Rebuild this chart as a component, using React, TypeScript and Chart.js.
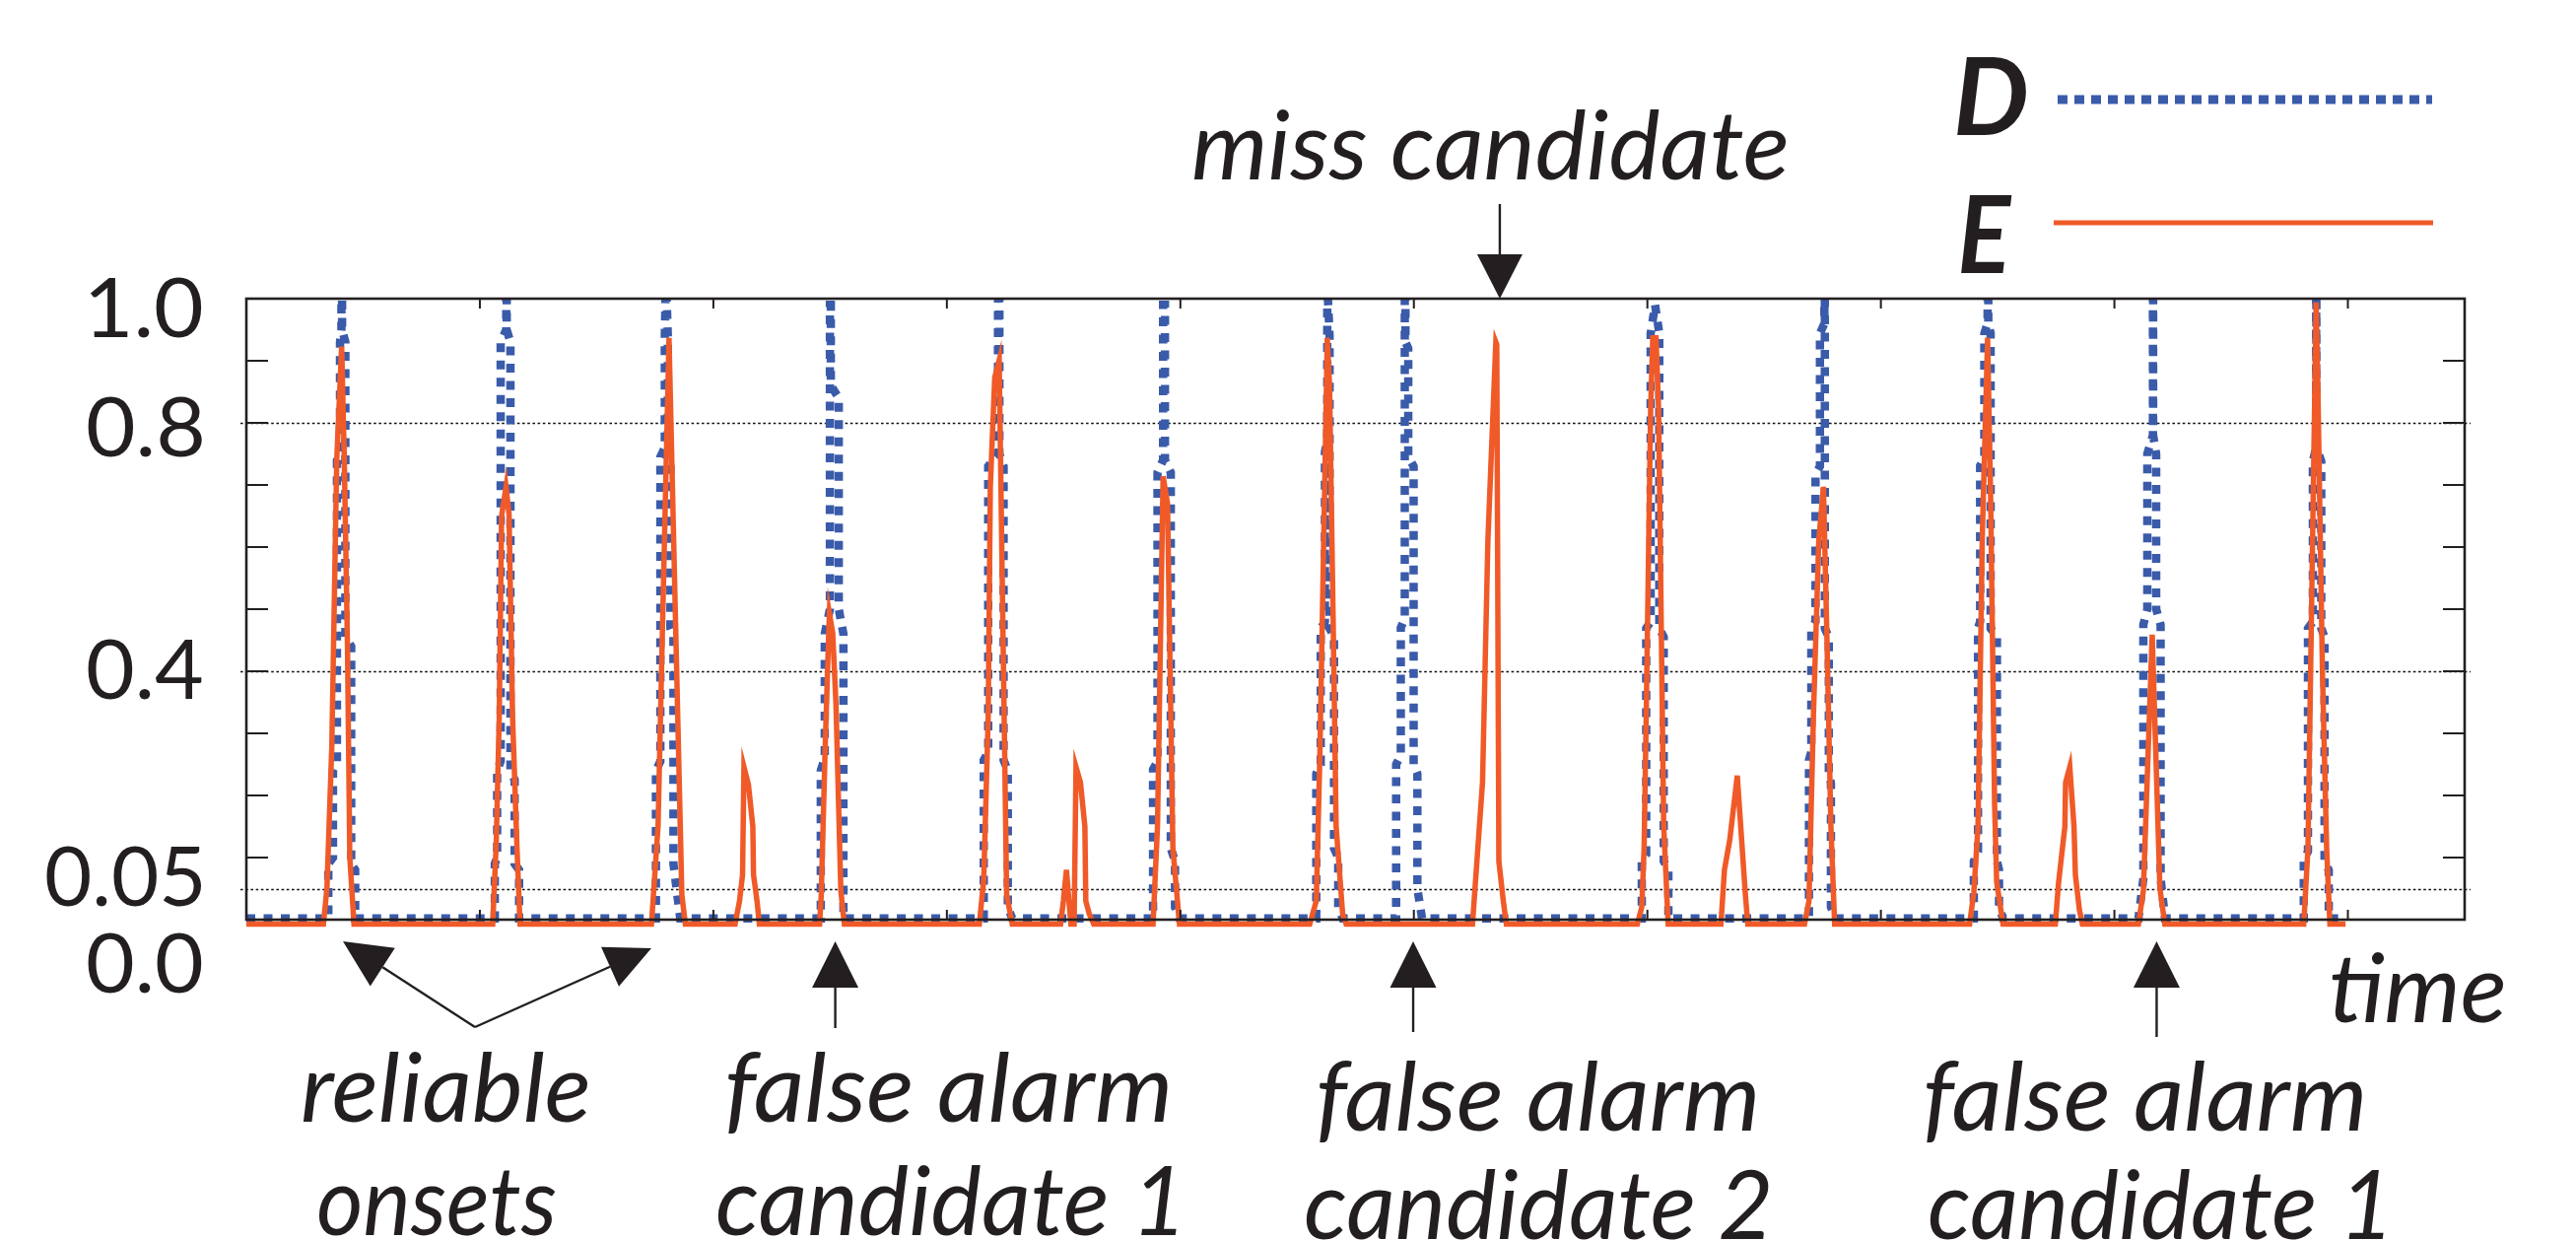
import React, { useEffect, useRef } from "react";
import { Chart, registerables } from "chart.js";

Chart.register(...registerables);

// ---------- data (time in frames, value 0..1) ----------
const timeD = [
  0,
  35.1, 35.1, 37.1, 37.1, 38.8, 38.8, 40.1, 40.1, 40.7, 40.7, 41.0, 41.0, 42.4, 42.4, 44.9, 44.9, 46.6, 46.6,
  106.4, 106.4, 107.4, 107.4, 108.9, 108.9, 111.3, 111.3, 111.5, 111.5, 113.1, 113.1, 114.9, 114.9, 116.8, 116.8,
  175.4, 175.4, 177.3, 177.3, 179.2, 179.2, 179.5, 180.0, 180.5, 180.5, 181.6, 181.6, 182.9, 182.9, 185.8,
  246.0, 246.0, 247.7, 247.7, 249.9, 249.9, 250.3, 250.3, 253.7, 253.7, 255.7, 255.7,
  315.8, 315.8, 317.7, 317.7, 321.9, 321.9, 322.5, 322.5, 324.3, 324.3, 326.1, 326.1, 328.0,
  388.3, 388.3, 390.2, 390.2, 392.6, 392.6, 393.4, 393.4, 395.9, 395.9, 397.7, 397.7, 399.6,
  458.2, 458.2, 460.1, 460.1, 461.9, 461.9, 462.9, 462.9, 463.2, 463.9, 463.9, 465.8, 465.8, 467.6, 467.6, 469.5,
  492.4, 492.4, 494.4, 494.4, 496.1, 496.1, 496.4, 496.4, 497.6, 497.6, 499.9, 499.9, 501.5, 501.5, 503.5,
  597.6, 597.6, 599.5, 599.5, 601.4, 601.4, 603.3, 605.1, 605.1, 607.0, 607.0, 609.0, 609.0,
  669.2, 669.2, 670.2, 670.2, 672.0, 672.0, 673.9, 673.9, 675.8, 675.8, 676.0, 676.0, 677.7, 677.7, 678.6, 678.6, 680.9,
  739.8, 739.8, 741.6, 741.6, 742.5, 742.5, 744.3, 744.3, 745.7, 745.7, 746.0, 746.0, 747.0, 747.0, 749.7, 749.7, 750.6, 750.6, 752.3,
  810.3, 812.4, 812.4, 814.1, 814.1, 816.5, 816.5, 816.6, 816.6, 817.9, 817.9, 819.8, 819.8, 821.7,
  881.1, 881.1, 882.9, 882.9, 885.0, 885.0, 886.4, 886.4, 886.5, 886.5, 888.6, 888.6, 890.0, 890.0, 891.8, 891.8,
  899,
];
const valueD = [
  0.002,
  0.002, 0.09, 0.10, 0.24, 0.255, 0.74, 0.755, 0.93, 0.95, 1.0, 1.0, 0.95, 0.93, 0.455, 0.44, 0.09, 0.08, 0.002,
  0.002, 0.09, 0.10, 0.24, 0.255, 0.93, 0.95, 1.0, 1.0, 0.95, 0.93, 0.24, 0.225, 0.09, 0.08, 0.002,
  0.002, 0.24, 0.255, 0.745, 0.76, 0.94, 1.0, 1.0, 0.94, 0.76, 0.745, 0.469, 0.455, 0.09, 0.002,
  0.002, 0.24, 0.26, 0.46, 0.5, 0.99, 0.99, 0.86, 0.84, 0.5, 0.46, 0.002,
  0.002, 0.257, 0.27, 0.73, 0.75, 1.0, 1.0, 0.75, 0.73, 0.257, 0.24, 0.02, 0.002,
  0.002, 0.242, 0.255, 0.72, 0.74, 0.99, 0.99, 0.74, 0.72, 0.115, 0.094, 0.02, 0.002,
  0.002, 0.235, 0.25, 0.469, 0.48, 0.753, 0.77, 1.0, 1.0, 0.94, 0.469, 0.455, 0.115, 0.1, 0.02, 0.002,
  0.002, 0.25, 0.265, 0.47, 0.485, 1.0, 1.0, 0.93, 0.92, 0.745, 0.73, 0.25, 0.235, 0.05, 0.002,
  0.002, 0.094, 0.105, 0.469, 0.48, 0.944, 0.99, 0.944, 0.469, 0.455, 0.094, 0.08, 0.002,
  0.002, 0.257, 0.27, 0.469, 0.48, 0.717, 0.73, 0.944, 0.96, 1.0, 1.0, 0.469, 0.455, 0.235, 0.22, 0.02, 0.002,
  0.002, 0.094, 0.11, 0.469, 0.48, 0.731, 0.745, 0.944, 0.96, 1.0, 1.0, 0.96, 0.944, 0.469, 0.455, 0.094, 0.08, 0.02, 0.002,
  0.002, 0.066, 0.475, 0.5, 0.75, 0.78, 1.0, 1.0, 0.78, 0.75, 0.5, 0.475, 0.066, 0.002,
  0.002, 0.094, 0.11, 0.469, 0.48, 0.738, 0.76, 0.994, 0.994, 0.76, 0.738, 0.469, 0.455, 0.094, 0.08, 0.002,
  0.002,
];

const timeE = [
  0,
  33.0, 34.5, 36.6, 38.7, 40.8, 41.9, 43.3, 44.3, 46.1,
  105.5, 107.0, 108.3, 109.3, 111.2, 112.5, 114.0, 115.9, 117.2,
  173.5, 176.3, 181.0, 186.5, 188.0,
  209.3, 211.2, 212.5, 213.1, 215.0, 216.9, 217.2, 218.7, 219.7,
  245.5, 246.2, 247.9, 249.3, 249.7, 251.1, 252.5, 253.9, 254.6, 256.1,
  313.9, 315.8, 317.7, 318.6, 320.5, 322.4, 325.6, 328.0,
  348.7, 349.9, 351.2, 353.1, 354.5, 355.3, 357.2, 359.1, 359.5, 361.0, 362.9,
  388.3, 390.2, 392.6, 394.5, 396.8, 399.6,
  455.4, 458.2, 459.7, 462.0, 462.9, 463.9, 465.4, 466.7, 469.5, 471.0,
  525.1, 527.0, 529.4, 531.7, 535.1, 535.5, 536.4, 538.3, 539.6,
  595.7, 597.6, 598.6, 599.5, 601.4, 602.3, 603.7, 604.8, 607.0, 608.9,
  631.5, 633.0, 635.3, 638.5, 641.9, 643.0,
  667.3, 669.2, 671.1, 673.4, 675.4, 676.8, 678.6, 680.2,
  738.0, 739.8, 741.6, 743.4, 745.7, 747.0, 748.7, 749.6, 752.3,
  774.7, 776.1, 778.8, 779.1, 780.9, 782.7, 783.3, 785.0, 786.3,
  810.3, 812.4, 816.2, 819.5, 821.6,
  881.1, 882.9, 884.6, 886.4, 887.3, 889.1, 890.9, 892.3,
  899,
];
const valueE = [
  -0.007,
  -0.007, 0.05, 0.28, 0.74, 0.923, 0.75, 0.44, 0.1, -0.007,
  -0.007, 0.122, 0.327, 0.65, 0.697, 0.653, 0.327, 0.115, -0.007,
  -0.007, 0.15, 0.937, 0.04, -0.007,
  -0.007, 0.03, 0.072, 0.246, 0.218, 0.15, 0.072, 0.03, -0.007,
  -0.007, 0.04, 0.28, 0.45, 0.493, 0.462, 0.348, 0.146, 0.046, -0.007,
  -0.007, 0.065, 0.327, 0.696, 0.873, 0.901, 0.04, -0.007,
  -0.007, 0.03, 0.08, -0.007, -0.007, 0.246, 0.221, 0.15, 0.03, 0.009, -0.007,
  -0.007, 0.15, 0.714, 0.67, 0.115, -0.007,
  -0.007, 0.03, 0.257, 0.738, 0.937, 0.859, 0.49, 0.15, 0.009, -0.007,
  -0.007, 0.094, 0.221, 0.611, 0.93, 0.926, 0.094, 0.03, -0.007,
  -0.007, 0.02, 0.115, 0.327, 0.823, 0.937, 0.937, 0.823, 0.15, -0.007,
  -0.007, 0.08, 0.129, 0.232, 0.044, -0.007,
  -0.007, 0.03, 0.327, 0.611, 0.697, 0.47, 0.15, -0.007,
  -0.007, 0.044, 0.15, 0.611, 0.937, 0.682, 0.186, 0.06, -0.007,
  -0.007, 0.06, 0.15, 0.221, 0.246, 0.15, 0.072, 0.016, -0.007,
  -0.007, 0.046, 0.459, 0.05, -0.007,
  -0.007, 0.115, 0.541, 0.994, 0.823, 0.4, 0.115, -0.007,
  -0.007,
];

const seriesNames = ["D", "E"];
const yTickValues = [1.0, 0.8, 0.4, 0.05, 0.0];
const yTickLabels = ["1.0", "0.8", "0.4", "0.05", "0.0"];
const yGridValues = [0.8, 0.4, 0.05];
const yMinorTickValues = [0.1, 0.2, 0.3, 0.4, 0.5, 0.6, 0.7, 0.8, 0.9];
const xMinorTickValues = [100, 200, 300, 400, 500, 600, 700, 800, 900];
const xAxisTitle = "time";
// annotation targets (time)
const missTime = 536.8;
const falseAlarmTimes = [252.2, 499.7, 818.1];

const BLUE = "#3A5BA9";
const ORANGE = "#F05A28";
const INK = "#231F20";
const FONT_NUM = "84px Lato, 'Open Sans', sans-serif";
const FONT_ANN = "italic 98px Lato, 'Open Sans', sans-serif";
const FONT_LEG = "italic bold 110px Lato, 'Open Sans', sans-serif";

function fitText(ctx: CanvasRenderingContext2D, text: string, left: number, right: number, baseline: number, font: string) {
  ctx.save();
  ctx.font = font;
  ctx.textAlign = "left";
  ctx.textBaseline = "alphabetic";
  const m = ctx.measureText(text);
  const ink = m.actualBoundingBoxLeft + m.actualBoundingBoxRight;
  const sx = ink > 0 ? (right - left) / ink : 1;
  ctx.translate(left, baseline);
  ctx.scale(sx, 1);
  ctx.fillStyle = INK;
  ctx.fillText(text, m.actualBoundingBoxLeft, 0);
  ctx.restore();
}

function drawArrow(ctx: CanvasRenderingContext2D, fx: number, fy: number, tx: number, ty: number, headLen: number, headW: number) {
  const dx = tx - fx, dy = ty - fy;
  const len = Math.hypot(dx, dy);
  const ux = dx / len, uy = dy / len;
  const bx = tx - ux * headLen, by = ty - uy * headLen;
  ctx.beginPath();
  ctx.moveTo(fx, fy);
  ctx.lineTo(bx, by);
  ctx.stroke();
  ctx.beginPath();
  ctx.moveTo(tx, ty);
  ctx.lineTo(bx - (uy * headW) / 2, by + (ux * headW) / 2);
  ctx.lineTo(bx + (uy * headW) / 2, by - (ux * headW) / 2);
  ctx.closePath();
  ctx.fill();
}

const overlay = {
  id: "overlay",
  beforeDatasetsDraw(chart: any) {
    const ctx: CanvasRenderingContext2D = chart.ctx;
    const { left, right } = chart.chartArea;
    const y = chart.scales.y;
    ctx.save();
    ctx.strokeStyle = "#111";
    ctx.lineWidth = 1.6;
    ctx.setLineDash([2.6, 2.6]);
    for (const v of yGridValues) {
      const py = Math.round(y.getPixelForValue(v)) + 0.5;
      ctx.beginPath();
      ctx.moveTo(left - 6, py);
      ctx.lineTo(right + 6, py);
      ctx.stroke();
    }
    ctx.restore();
  },
  afterDatasetsDraw(chart: any) {
    const ctx: CanvasRenderingContext2D = chart.ctx;
    const { left, right, top, bottom } = chart.chartArea;
    const x = chart.scales.x;
    const y = chart.scales.y;
    ctx.save();
    ctx.strokeStyle = INK;
    ctx.lineWidth = 2.6;
    ctx.strokeRect(left, top, right - left, bottom - top);
    ctx.lineWidth = 2;
    for (const v of yMinorTickValues) {
      const py = y.getPixelForValue(v);
      ctx.beginPath();
      ctx.moveTo(left, py);
      ctx.lineTo(left + 22, py);
      ctx.moveTo(right, py);
      ctx.lineTo(right - 22, py);
      ctx.stroke();
    }
    for (const v of xMinorTickValues) {
      const px = x.getPixelForValue(v);
      ctx.beginPath();
      ctx.moveTo(px, top);
      ctx.lineTo(px, top + 10);
      ctx.moveTo(px, bottom);
      ctx.lineTo(px, bottom - 10);
      ctx.stroke();
    }
    ctx.restore();
  },
  afterDraw(chart: any) {
    const ctx: CanvasRenderingContext2D = chart.ctx;
    const { top } = chart.chartArea;
    const x = chart.scales.x;
    const y = chart.scales.y;
    ctx.save();

    // y tick labels
    const labelLeft = [91, 89, 89, 47, 89];
    const labelBaseOffset = [39, 34, 28, 17, 74];
    yTickValues.forEach((v, i) => {
      const base = y.getPixelForValue(v) + labelBaseOffset[i];
      fitText(ctx, yTickLabels[i], labelLeft[i], 205, base, FONT_NUM);
    });

    // legend
    fitText(ctx, seriesNames[0], 1986, 2056, 137, FONT_LEG);
    fitText(ctx, seriesNames[1], 1990, 2042, 277, FONT_LEG);
    ctx.save();
    ctx.strokeStyle = BLUE;
    ctx.lineWidth = 9;
    ctx.setLineDash([10, 7]);
    ctx.beginPath();
    ctx.moveTo(2088, 101);
    ctx.lineTo(2468, 101);
    ctx.stroke();
    ctx.setLineDash([]);
    ctx.strokeStyle = ORANGE;
    ctx.lineWidth = 5;
    ctx.beginPath();
    ctx.moveTo(2084, 226);
    ctx.lineTo(2469, 226);
    ctx.stroke();
    ctx.restore();

    // annotations
    fitText(ctx, "miss candidate", 1211, 1813, 182, FONT_ANN);
    fitText(ctx, "reliable", 307, 597, 1138, FONT_ANN);
    fitText(ctx, "onsets", 323, 564, 1253, FONT_ANN);
    fitText(ctx, "false alarm", 738, 1186, 1138, FONT_ANN);
    fitText(ctx, "candidate 1", 728, 1194, 1253, FONT_ANN);
    fitText(ctx, "false alarm", 1338, 1782, 1147, FONT_ANN);
    fitText(ctx, "candidate 2", 1325, 1795, 1257, FONT_ANN);
    fitText(ctx, "false alarm", 1954, 2398, 1147, FONT_ANN);
    fitText(ctx, "candidate 1", 1958, 2419, 1257, FONT_ANN);
    fitText(ctx, xAxisTitle, 2366, 2541, 1037, FONT_ANN);

    ctx.strokeStyle = INK;
    ctx.fillStyle = INK;
    ctx.lineWidth = 2.4;
    // miss candidate arrow
    const mx = x.getPixelForValue(missTime);
    drawArrow(ctx, mx, 207, mx, top, 45, 46);
    // reliable onsets arrows
    drawArrow(ctx, 482, 1042, 348, 955, 48, 46);
    drawArrow(ctx, 482, 1042, 661, 962, 46, 44);
    // false alarm arrows
    const fromY = [1043, 1047, 1052];
    falseAlarmTimes.forEach((t, i) => {
      const px = x.getPixelForValue(t);
      drawArrow(ctx, px, fromY[i], px, 955, 47, 47);
    });
    ctx.restore();
  },
};

export default function App() {
  const canvasRef = useRef<HTMLCanvasElement | null>(null);

  useEffect(() => {
    const canvas = canvasRef.current;
    if (!canvas) return;
    const clip = { left: 0, top: 0, right: 0, bottom: 12 };
    const chart = new Chart(canvas, {
      type: "line",
      data: {
        datasets: [
          {
            label: seriesNames[1],
            data: timeE.map((t, i) => ({ x: t, y: valueE[i] })),
            borderColor: ORANGE,
            borderWidth: 5.5,
            pointRadius: 0,
            tension: 0,
            fill: false,
            clip: clip as any,
            borderJoinStyle: "miter",
          },
          {
            label: seriesNames[0],
            data: timeD.map((t, i) => ({ x: t, y: valueD[i] })),
            borderColor: BLUE,
            borderWidth: 8.5,
            borderDash: [9, 8.5],
            borderCapStyle: "butt",
            borderJoinStyle: "miter",
            pointRadius: 0,
            tension: 0,
            fill: false,
            clip: clip as any,
          },
        ],
      },
      options: {
        animation: false,
        responsive: false,
        maintainAspectRatio: false,
        devicePixelRatio: 1,
        events: [],
        layout: { padding: { left: 250, right: 113, top: 303, bottom: 325 } },
        scales: {
          x: { type: "linear", min: 0, max: 950, display: false },
          y: { type: "linear", min: 0, max: 1, display: false },
        },
        plugins: { legend: { display: false }, tooltip: { enabled: false } },
      },
      plugins: [overlay as any],
    });
    let alive = true;
    if ((document as any).fonts && (document as any).fonts.ready) {
      (document as any).fonts.ready.then(() => {
        if (alive) chart.draw();
      });
    }
    return () => {
      alive = false;
      chart.destroy();
    };
  }, []);

  return (
    <div style={{ position: "fixed", left: 0, top: 0, width: 2614, height: 1258, background: "#fff" }}>
      <canvas ref={canvasRef} width={2614} height={1258} style={{ display: "block", width: 2614, height: 1258 }} />
    </div>
  );
}
